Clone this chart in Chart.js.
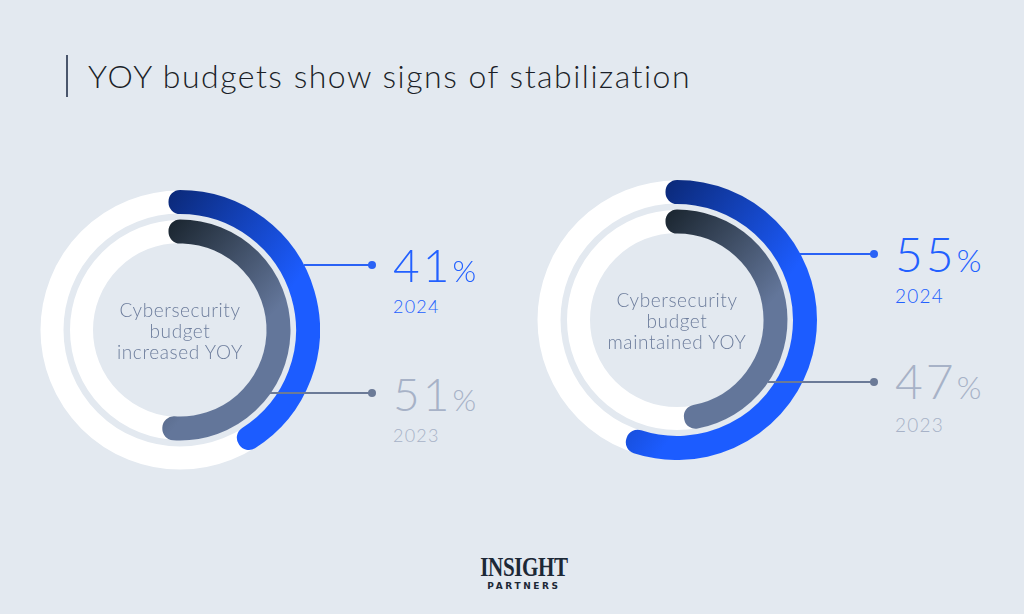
<!DOCTYPE html>
<html>
<head>
<meta charset="utf-8">
<script src="https://cdn.jsdelivr.net/npm/chart.js@4/dist/chart.umd.min.js"></script>
<style>
  html, body { margin: 0; padding: 0; }
  body { width: 1024px; height: 614px; background: #e3e9f0; position: relative; overflow: hidden; font-family: Lato, "Open Sans", sans-serif; }
  .abs { position: absolute; }
  .ring { position: absolute; width: 280px; height: 280px; }
  #titleBar { left: 66px; top: 55px; width: 1.5px; height: 42px; background: #4a566c; }
  #title { left: 88px; top: 60px; font-size: 32px; line-height: 32px; font-weight: 300; letter-spacing: 1.5px; color: #1b1f28; white-space: nowrap; }
  .center { width: 200px; text-align: center; font-size: 19px; line-height: 21px; font-weight: 300; letter-spacing: 0.6px; color: #6d7d9c; }
  .big { font-weight: 300; white-space: nowrap; letter-spacing: 3px; }
  .big span { font-size: 0.66em; letter-spacing: 0; }
  .yr { white-space: nowrap; letter-spacing: 1.2px; font-weight: 300; }
  .blue { color: #2260ff; }
  .grey { color: #a7b2c7; }
  .lead { height: 1.5px; }
  .dot { width: 8px; height: 8px; border-radius: 50%; }
  #logo { left: 424px; top: 552px; width: 200px; text-align: center; font-family: "Liberation Serif", serif; font-weight: bold; font-size: 27px; line-height: 30px; color: #1c2836; transform: scaleX(0.78); letter-spacing: -0.5px; }
  #logoSub { left: 424px; top: 581px; width: 200px; text-align: center; font-family: "DejaVu Sans", sans-serif; font-weight: bold; font-size: 9px; line-height: 11px; letter-spacing: 2.6px; color: #1c2836; }
</style>
</head>
<body>
<div id="titleBar" class="abs"></div>
<div id="title" class="abs">YOY budgets show signs of stabilization</div>

<div class="ring" style="left:40px; top:190px;"><canvas id="chart0"></canvas></div>
<div class="ring" style="left:537px; top:180px;"><canvas id="chart1"></canvas></div>

<div id="labels"></div>

<div id="logo" class="abs">INSIGHT</div>
<div id="logoSub" class="abs">PARTNERS</div>

<script>
// values
var categories = ['Cybersecurity budget increased YOY', 'Cybersecurity budget maintained YOY']
var centerLines = [['Cybersecurity', 'budget', 'increased YOY'], ['Cybersecurity', 'budget', 'maintained YOY']]
var years = ['2024', '2023']
var values2024 = [41, 55]
var values2023 = [51, 47]

var BAND = 23
var CLEAR = 'rgba(0,0,0,0)'

// layout of the annotation text, one entry per chart
var layout = [
  { cx: 180, cy: 330, tx: 393, big: 46, yr: 18, top24: 242, yr24: 297, top23: 371, yr23: 426, lead24: 265, lead23: 393, centerTop: 299 },
  { cx: 677, cy: 320, tx: 895, big: 48, yr: 19, top24: 230, yr24: 286, top23: 357, yr23: 415, lead24: 254, lead23: 382, centerTop: 289 }
]

function blueGrad (c) {
  var a = c.chart.chartArea
  if (!a) return '#1c5cff'
  var cx = (a.left + a.right) / 2, cy = (a.top + a.bottom) / 2, r = a.width / 2
  var g = c.chart.ctx.createLinearGradient(cx - 0.15 * r, cy - r, cx + 0.8 * r, cy - 0.3 * r)
  g.addColorStop(0, '#0a2670')
  g.addColorStop(1, '#1c5cff')
  return g
}

function darkGrad (c) {
  var a = c.chart.chartArea
  if (!a) return '#63769a'
  var cx = (a.left + a.right) / 2, cy = (a.top + a.bottom) / 2, r = a.width / 2
  var g = c.chart.ctx.createLinearGradient(cx - 0.1 * r, cy - 0.75 * r, cx + 0.65 * r, cy - 0.1 * r)
  g.addColorStop(0, '#1a252f')
  g.addColorStop(1, '#63769a')
  return g
}

function pick (grad) {
  return function (c) { return c.dataIndex === 0 ? grad(c) : CLEAR }
}

// white tracks under each value ring
var tracks = {
  id: 'tracks',
  beforeDatasetsDraw: function (chart) {
    var ctx = chart.ctx
    ;[0, 2].forEach(function (i) {
      var el = chart.getDatasetMeta(i).data[0]
      if (!el) return
      ctx.save()
      ctx.beginPath()
      ctx.arc(el.x, el.y, (el.innerRadius + el.outerRadius) / 2, 0, Math.PI * 2)
      ctx.lineWidth = BAND
      ctx.strokeStyle = '#ffffff'
      ctx.stroke()
      ctx.restore()
    })
  }
}

function makeChart (idx) {
  var v24 = values2024[idx], v23 = values2023[idx]
  new Chart(document.getElementById('chart' + idx), {
    type: 'doughnut',
    data: {
      labels: [years[0], 'rest'],
      datasets: [
        { label: years[0], data: [v24, 100 - v24], weight: 1,
          backgroundColor: pick(blueGrad), borderColor: pick(blueGrad),
          borderWidth: [BAND, 0], borderJoinStyle: 'round', borderAlign: 'center' },
        { label: 'gap', data: [100], weight: 28.5, backgroundColor: CLEAR, borderWidth: 0 },
        { label: years[1], data: [v23, 100 - v23], weight: 1,
          backgroundColor: pick(darkGrad), borderColor: pick(darkGrad),
          borderWidth: [BAND, 0], borderJoinStyle: 'round', borderAlign: 'center' }
      ]
    },
    options: {
      responsive: true,
      maintainAspectRatio: false,
      animation: false,
      events: [],
      cutout: '76.26%',
      plugins: { legend: { display: false }, tooltip: { enabled: false } }
    },
    plugins: [tracks]
  })
}

function el (cls, style, html) {
  var d = document.createElement('div')
  d.className = 'abs ' + cls
  d.setAttribute('style', style)
  if (html) d.innerHTML = html
  document.getElementById('labels').appendChild(d)
  return d
}

// leader lines, dots, values and centre captions
function addLabels (idx) {
  var L = layout[idx]
  var dotX = L.tx - 21
  var rOut = 140, rIn = 110
  var x24 = L.cx + Math.sqrt(rOut * rOut - Math.pow(L.lead24 - L.cy, 2))
  var x23 = L.cx + Math.sqrt(rIn * rIn - Math.pow(L.lead23 - L.cy, 2))

  el('lead', 'left:' + x24 + 'px; top:' + (L.lead24 - 0.75) + 'px; width:' + (dotX - x24) + 'px; background:#2a62f5;')
  el('dot', 'left:' + (dotX - 4) + 'px; top:' + (L.lead24 - 4) + 'px; background:#2a62f5;')
  el('lead', 'left:' + x23 + 'px; top:' + (L.lead23 - 0.75) + 'px; width:' + (dotX - x23) + 'px; background:#6b7a97;')
  el('dot', 'left:' + (dotX - 4) + 'px; top:' + (L.lead23 - 4) + 'px; background:#6b7a97;')

  el('big blue', 'left:' + L.tx + 'px; top:' + L.top24 + 'px; font-size:' + L.big + 'px; line-height:' + L.big + 'px;', values2024[idx] + '<span>%</span>')
  el('yr blue', 'left:' + L.tx + 'px; top:' + L.yr24 + 'px; font-size:' + L.yr + 'px; line-height:' + L.yr + 'px;', years[0])
  el('big grey', 'left:' + L.tx + 'px; top:' + L.top23 + 'px; font-size:' + L.big + 'px; line-height:' + L.big + 'px;', values2023[idx] + '<span>%</span>')
  el('yr grey', 'left:' + L.tx + 'px; top:' + L.yr23 + 'px; font-size:' + L.yr + 'px; line-height:' + L.yr + 'px;', years[1])

  el('center', 'left:' + (L.cx - 100) + 'px; top:' + L.centerTop + 'px;', centerLines[idx].join('<br>'))
}

makeChart(0)
makeChart(1)
addLabels(0)
addLabels(1)
</script>
</body>
</html>
